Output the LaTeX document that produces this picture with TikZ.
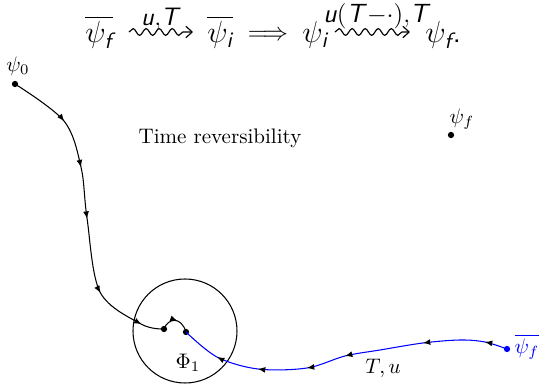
\documentclass[tikz,border=0pt]{standalone}
\usepackage{amsmath}
\usetikzlibrary{decorations.pathmorphing,decorations.markings,arrows.meta}
\newcommand\sfi[1]{\textsf{\itshape #1}}
\begin{document}
\begin{tikzpicture}[x=0.475pt,y=-0.475pt,
  dot/.style={circle,fill,inner sep=0pt,minimum size=3pt},
  >={Latex[length=3.5pt,width=2.8pt]},
  traj/.style={line width=0.5pt},
  wavy/.style={decorate,decoration={snake,amplitude=1.6pt,segment length=6.2pt,post length=2.5pt},
    -{Straight Barb[length=3pt,width=5.5pt]}, line width=0.55pt},
  form/.style={anchor=base west,inner sep=0pt,font=\fontsize{15}{18}\selectfont}]
\useasboundingbox (0,0) rectangle (540,384);

% top formula
\node[form] (A) at (85,43) {$\overline{\psi_{\sfi{f}}}$};
\node[form] (B) at (207,43) {$\overline{\psi_{\sfi{i}}}$};
\node[form,anchor=base,font=\fontsize{13}{16}\selectfont] (C) at (268,41) {$\Longrightarrow$};
\node[form] (D) at (302,43) {$\psi_{\sfi{i}}$};
\node[form] (E) at (425,43) {$\psi_{\sfi{f}}\textsf{.}$};
\coordinate (a1) at (129,32);
\coordinate (a2) at (193,32);
\coordinate (b1) at (335,32);
\coordinate (b2) at (410,32);
\draw[wavy] (a1) -- (a2);
\draw[wavy] (b1) -- (b2);
\node[font=\large,inner sep=0pt] (lab1) at (161,19) {\sfi{u}$,$\sfi{T}};
\node[font=\fontsize{12.5}{15}\selectfont,inner sep=0pt] (lab2) at (377,16) {\sfi{u}$($\sfi{T}${-}{\cdot}),$\sfi{T}};

% points
\node[dot] (psi0) at (15,84) {};
\node (psi0l) at (18,66) {$\psi_0$};
\node[dot] (psif) at (451,135) {};
\node (psifl) at (462,119) {$\psi_f$};
\node (title) at (220,138) {Time reversibility};

% circle
\node[draw,circle,minimum size=49.4pt,inner sep=0pt,line width=0.5pt] (phi) at (185,331) {};
\node (phil) at (188,363) {$\Phi_1$};
\node[dot] (pa) at (164,329) {};
\node[dot] (pb) at (186,332) {};

% black trajectory
\draw[traj,postaction={decorate},decoration={markings,
   mark=at position 0.197 with {\arrow{>}},
   mark=at position 0.354 with {\arrow{>}},
   mark=at position 0.519 with {\arrow{>}},
   mark=at position 0.76 with {\arrow{>}},
   mark=at position 0.926 with {\arrow{>}}}]
  plot[smooth,tension=0.55] coordinates {(psi0.center) (64,121) (81,167) (87,218) (100,292) (141,324) (pa.center)};
\draw[traj,postaction={decorate},decoration={markings,
   mark=at position 0.55 with {\arrow{>}}}]
  (pa.center) .. controls (168,318) and (181,316) .. (pb.center);

% blue trajectory
\node[dot,blue] (psifb) at (507,349) {};
\node[blue] (psifbl) at (527,347) {$\overline{\psi_f}$};
\draw[traj,blue,postaction={decorate},decoration={markings,
   mark=at position 0.069 with {\arrow[black]{>}},
   mark=at position 0.254 with {\arrow[black]{>}},
   mark=at position 0.489 with {\arrow[black]{>}},
   mark=at position 0.608 with {\arrow[black]{>}},
   mark=at position 0.754 with {\arrow[black]{>}},
   mark=at position 0.881 with {\arrow[black]{>}}}]
  plot[smooth,tension=0.55] coordinates {(psifb.center) (485,342) (460,340) (423,343) (380,350) (345,356) (307,368) (258,369) (217,357) (pb.center)};
\node (Tu) at (383,368) {$T,u$};
\end{tikzpicture}
\end{document}
